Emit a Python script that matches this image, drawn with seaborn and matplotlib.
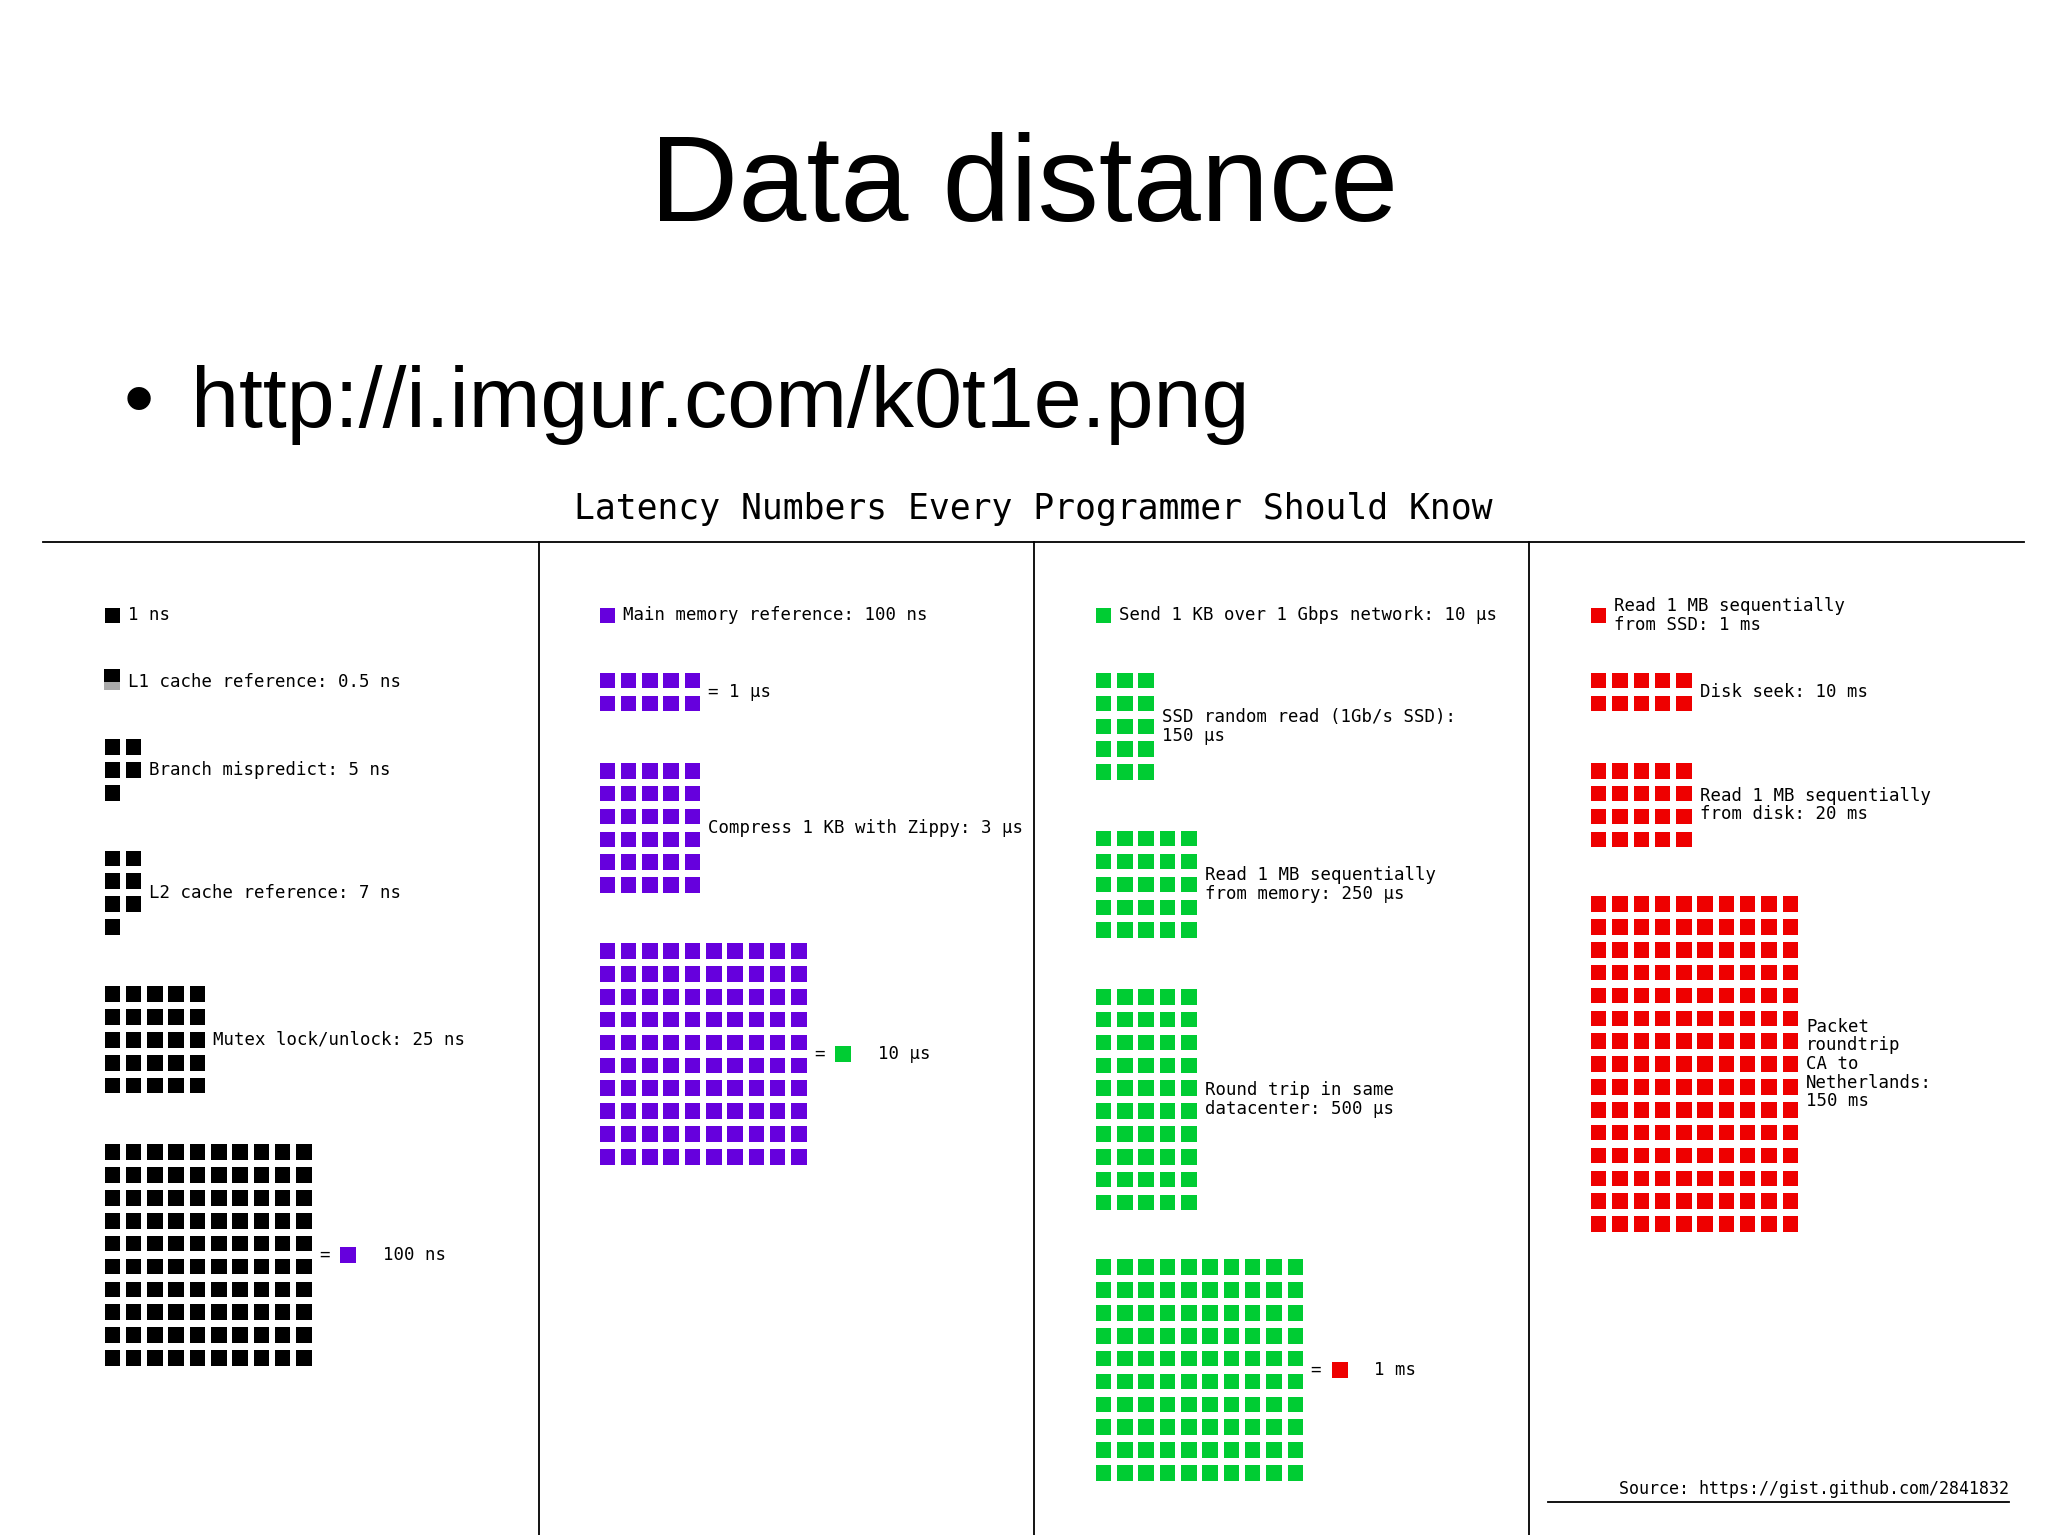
import numpy as np
import pandas as pd
import matplotlib
matplotlib.use("Agg")
import matplotlib.pyplot as plt
import seaborn as sns

# page coordinates are in a 1568 x 1175 space, scaled onto a 2048 x 1535 figure
W, H = 1568, 1175
BLACK, PURPLE, GREEN, RED = "#000000", "#6600dd", "#00cc33", "#ee0000"

# latency items: label, number of squares, colour, panel, grid columns, top row y
labels = ["1 ns", "L1 cache reference: 0.5 ns", "Branch mispredict: 5 ns",
          "L2 cache reference: 7 ns", "Mutex lock/unlock: 25 ns", "= \u25a0 100 ns",
          "Main memory reference: 100 ns", "= 1 \u00b5s", "Compress 1 KB with Zippy: 3 \u00b5s",
          "= \u25a0 10 \u00b5s",
          "Send 1 KB over 1 Gbps network: 10 \u00b5s", "SSD random read (1Gb/s SSD):\n150 \u00b5s",
          "Read 1 MB sequentially\nfrom memory: 250 \u00b5s", "Round trip in same\ndatacenter: 500 \u00b5s",
          "= \u25a0 1 ms",
          "Read 1 MB sequentially\nfrom SSD: 1 ms", "Disk seek: 10 ms",
          "Read 1 MB sequentially\nfrom disk: 20 ms", "Packet\nroundtrip\nCA to\nNetherlands:\n150 ms"]
counts = [1, 1, 5, 7, 25, 100, 1, 10, 30, 100, 1, 15, 25, 50, 100, 1, 10, 20, 150]
colors = [BLACK] * 6 + [PURPLE] * 4 + [GREEN] * 5 + [RED] * 4
panels = [0] * 6 + [1] * 4 + [2] * 5 + [3] * 4
grid_cols = [1, 1, 2, 2, 5, 10, 1, 5, 5, 10, 1, 3, 5, 5, 10, 1, 5, 5, 10]
top_y = [471, 522, 572, 657, 761, 882, 471, 521, 590, 728, 471, 521, 642, 763, 970, 471, 521, 590, 692]
eq_colors = {5: PURPLE, 9: GREEN, 14: RED}

panel_x = [86, 465, 845, 1224]
pitch_x, pitch_y = 16.3, 17.5

rows = []
for i, n in enumerate(counts):
    for k in range(n):
        r, c = divmod(k, grid_cols[i])
        rows.append({"x": panel_x[panels[i]] + c * pitch_x,
                     "y": top_y[i] + r * pitch_y,
                     "color": colors[i], "item": i})
sq = pd.DataFrame(rows)

fig = plt.figure(figsize=(20.48, 15.35), dpi=100)
ax = fig.add_axes([0, 0, 1, 1])
ax.set_xlim(0, W)
ax.set_ylim(H, 0)
ax.axis("off")

sq_main = sq[sq["item"] != 1]
sns.scatterplot(data=sq_main, x="x", y="y", hue="color", palette={c: c for c in sq_main["color"].unique()},
                marker="s", s=125, linewidth=0, legend=False, ax=ax)
# L1 half square
l1 = sq[sq["item"] == 1]
ax.scatter(l1["x"], l1["y"] - 3, marker="s", s=125, color="#aaaaaa", linewidth=0)
ax.scatter(l1["x"], l1["y"] - 3.5, marker="s", s=125, color=BLACK, linewidth=0,
           clip_on=False).set_clip_path(None)
ax.add_patch(plt.Rectangle((l1["x"].iloc[0] - 6, l1["y"].iloc[0]), 12, 6, color="#aaaaaa", lw=0))

mono = "DejaVu Sans Mono"
for i, lab in enumerate(labels):
    g = sq[sq["item"] == i]
    x_right = g["x"].max() + 12
    y_mid = (g["y"].min() + g["y"].max()) / 2
    if i in eq_colors:
        txt = lab.replace("\u25a0", "   ")
        ax.text(x_right, y_mid, txt, fontsize=12.5, family=mono, va="center", ha="left")
        ax.scatter([x_right + 22], [y_mid], marker="s", s=125, color=eq_colors[i], linewidth=0)
    else:
        ax.text(x_right, y_mid, lab, fontsize=12.5, family=mono, va="center", ha="left",
                linespacing=1.05)

# frame lines
ax.plot([33, 1550], [415, 415], color="black", lw=1.3)
for x in [413, 792, 1171]:
    ax.plot([x, x], [415, 1175], color="black", lw=1.3)
ax.plot([1185, 1538], [1150, 1150], color="black", lw=1.3)
ax.text(1538, 1147, "Source: https://gist.github.com/2841832", fontsize=12, family=mono,
        ha="right", va="bottom")

ax.text(791, 390, "Latency Numbers Every Programmer Should Know", fontsize=25, family=mono,
        ha="center", va="center")
ax.text(784, 145, "Data distance", fontsize=88, family="Liberation Sans", ha="center", va="center")
ax.text(95, 310, "\u2022", fontsize=62, family="Liberation Sans", ha="left", va="center")
ax.text(146, 310, "http://i.imgur.com/k0t1e.png", fontsize=62, family="Liberation Sans",
        ha="left", va="center")

fig.savefig("out.png", dpi=100)
